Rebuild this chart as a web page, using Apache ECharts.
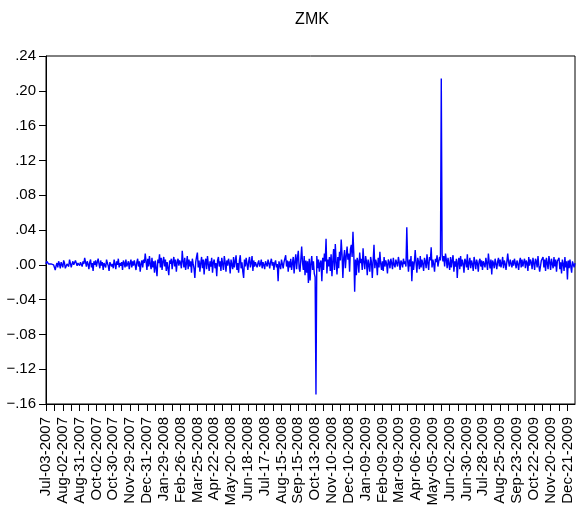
<!DOCTYPE html>
<html>
<head>
<meta charset="utf-8">
<script src="https://cdn.jsdelivr.net/npm/echarts@6/dist/echarts.min.js"></script>
<style>
html,body{margin:0;padding:0;background:#fff;}
#chart{width:577px;height:515px;}
</style>
</head>
<body>
<div id="chart"></div>
<script>
// Tick labels shown every 20 observations on the x axis
var tickLabels = ["Jul-03-2007","Aug-02-2007","Aug-31-2007","Oct-02-2007","Oct-30-2007","Nov-29-2007","Dec-31-2007",
"Jan-29-2008","Feb-26-2008","Mar-25-2008","Apr-22-2008","May-20-2008","Jun-18-2008","Jul-17-2008","Aug-15-2008","Sep-15-2008",
"Oct-13-2008","Nov-10-2008","Dec-10-2008","Jan-09-2009","Feb-09-2009","Mar-09-2009","Apr-06-2009","May-05-2009","Jun-02-2009",
"Jun-30-2009","Jul-28-2009","Aug-25-2009","Sep-23-2009","Oct-22-2009","Nov-20-2009","Dec-21-2009"];
var labelStep = 20;

var zmk = [
.001,.004,.002,.001,.002,.000,.001,.000,-.001,.000,
-.002,-.006,-.001,.002,-.003,.004,.001,-.004,.003,.000,
-.003,.005,.002,-.004,-.005,.001,.003,-.002,.006,.002,
-.003,.001,.004,.000,-.002,.005,.003,-.001,.002,.004,
-.001,.003,.005,-.002,.004,.001,.008,.003,-.002,.004,
.001,-.005,.003,.006,-.003,.002,-.007,.004,.000,.005,
-.002,.003,.007,.001,-.004,.005,-.001,.003,-.006,.002,
.004,-.003,.006,.002,-.001,-.007,.003,.005,-.002,.001,
-.004,.006,.001,-.005,.004,.000,.007,-.003,.002,-.001,
.003,-.006,.005,.002,-.003,.006,-.002,.001,.004,-.005,
.002,.006,-.003,.004,-.001,.005,.000,-.006,.003,.007,
-.002,.004,-.008,.001,.005,-.003,.006,.002,.013,.004,
-.006,.007,-.002,.010,.001,-.005,.008,-.003,.004,-.009,
.005,-.004,-.013,.006,.002,.012,-.003,.008,-.006,.004,
.009,-.002,.006,-.007,.003,-.004,-.012,.005,.001,.007,
-.005,.004,.009,-.002,.006,-.008,.003,.007,-.001,.005,
.002,-.004,.016,.004,-.003,.008,-.006,.002,.010,-.005,
.006,-.002,.004,-.009,.007,.001,-.004,-.015,.003,.009,
.014,-.003,.005,-.008,.002,.009,-.004,.006,-.011,.003,
.007,-.005,.010,.001,-.007,.004,-.002,.008,-.009,.003,
.006,-.004,.002,-.013,.005,.009,-.002,.004,-.007,.008,
.001,-.006,.010,.003,-.008,.005,-.001,.007,.002,-.010,
.006,.000,-.005,.009,-.003,.004,.011,-.006,.002,-.009,
.005,.011,-.004,.003,-.008,-.015,.006,-.002,.008,.001,
-.006,.004,.009,-.003,.002,.010,-.007,.005,-.002,.003,
.004,-.003,.002,.005,-.002,.001,.006,-.004,.003,.000,
-.005,.004,.001,-.002,.006,.002,-.004,.003,.007,-.001,
.003,-.006,.002,.005,-.003,.001,-.019,.004,.002,-.005,
.006,.001,-.004,.003,.002,.011,-.002,.005,-.008,.004,
-.003,.007,-.006,.002,.009,-.010,.004,.012,-.005,.008,
.016,-.004,-.008,.006,.021,.003,-.006,.010,-.012,.005,
-.009,.004,-.021,.007,-.018,.002,.010,-.006,.004,-.010,
-.014,-.149,.010,-.004,.006,-.008,.002,.005,-.019,.008,
-.006,.013,.004,.030,-.010,.006,-.002,.009,-.007,.012,
-.013,.004,.018,-.006,.024,.003,-.011,.009,-.004,.015,
.005,.029,.012,-.015,.008,.017,-.004,.010,.021,.006,
.013,-.008,.018,.023,.009,.038,.012,-.031,.006,-.012,
.008,.004,-.009,.014,.002,.007,-.006,.019,.003,-.005,
.010,.004,-.012,.006,.000,-.008,.009,.003,-.015,.005,
.023,-.004,.006,.002,-.012,.008,-.003,.015,.001,-.006,
.004,-.007,.009,-.002,.005,.001,-.010,.006,.003,-.004,
.007,.002,-.005,.008,.000,-.003,.006,.004,-.002,.009,
.003,-.006,.005,.002,-.003,.007,.001,.004,-.002,.043,
.005,-.008,.006,-.002,.010,-.019,.004,-.006,.003,.017,
.002,-.009,.008,.003,-.005,.010,-.003,.006,.001,-.007,
.008,.004,-.004,.012,.002,-.006,.009,.005,.020,-.003,
.006,.001,-.008,.007,.003,.011,-.002,.004,.009,.005,
.214,.012,.004,.010,-.002,.013,.006,-.004,.008,.001,
-.006,.009,-.003,.005,.011,-.008,.004,-.002,.007,-.015,
.003,.008,-.005,.010,-.002,.006,.001,-.009,.007,.004,
-.003,.012,-.006,.002,.008,-.004,.005,.001,-.007,.009,
.003,-.005,.006,.002,-.008,.004,.007,-.002,.005,-.006,
.004,.001,-.003,.008,.002,-.006,.013,.003,-.004,.006,
-.011,.005,.002,-.004,.007,.001,-.005,.004,.008,-.002,
.006,-.003,.002,.009,-.004,.005,.001,-.006,.004,.013,
.003,-.002,.006,.004,-.003,.005,-.001,.007,.002,-.004,
.005,.001,-.006,.004,.008,-.003,.006,-.002,.003,.007,
-.004,.005,.002,-.007,.009,-.001,.006,.003,-.005,.008,
.002,-.006,.007,.004,-.003,.010,-.001,-.008,-.009,.005,
.004,.009,-.003,.006,-.007,.008,.002,-.005,.010,.003,
-.006,.007,.001,-.004,.009,-.002,.006,-.008,.004,.002,
.008,-.005,.003,-.010,.006,.001,-.007,.009,-.003,.004,
-.017,.005,-.004,.006,-.002,-.009,.004,.002,-.003,.002
];

var yMin = -0.16, yMax = 0.24, yStep = 0.04;

var categories = zmk.map(function (v, i) { return String(i); });

var chart = echarts.init(document.getElementById('chart'), null, {renderer: 'canvas'});
var font = 'Arial, "Liberation Sans", sans-serif';
chart.setOption({
  animation: false,
  backgroundColor: '#fff',
  title: {
    text: 'ZMK', left: 307, top: 7, textAlign: 'center',
    textStyle: {fontFamily: font, fontSize: 16, fontWeight: 'normal', color: '#000'}
  },
  grid: {
    left: 46, right: 2, top: 56, bottom: 111,
    show: true, borderColor: '#000', borderWidth: 1, backgroundColor: 'transparent'
  },
  xAxis: {
    type: 'category',
    data: categories,
    boundaryGap: false,
    axisLine: {show: true, onZero: false, lineStyle: {color: '#000', width: 1}},
    axisTick: {show: true, interval: 9, length: 7, lineStyle: {color: '#000'}},
    axisLabel: {
      interval: labelStep - 1, rotate: 90, margin: 13,
      fontFamily: font, fontSize: 15, color: '#000',
      formatter: function (v, idx) {
        var k = Math.round(idx / labelStep);
        return tickLabels[k] || '';
      }
    },
    splitLine: {show: false}
  },
  yAxis: {
    type: 'value',
    min: yMin, max: yMax, interval: yStep,
    axisLine: {show: true, lineStyle: {color: '#000', width: 1}},
    axisTick: {show: true, length: 7, lineStyle: {color: '#000'}},
    axisLabel: {
      fontFamily: font, fontSize: 15, color: '#000', margin: 10,
      formatter: function (v) {
        var s = Math.abs(v).toFixed(2).replace(/^0/, '');
        return (v < -1e-9 ? '\u2212' : '') + s;
      }
    },
    splitLine: {show: false}
  },
  series: [{
    type: 'line',
    data: zmk,
    showSymbol: false,
    symbol: 'none',
    lineStyle: {color: '#0000ff', width: 1.4},
    itemStyle: {color: '#0000ff'}
  }]
});
</script>
</body>
</html>
